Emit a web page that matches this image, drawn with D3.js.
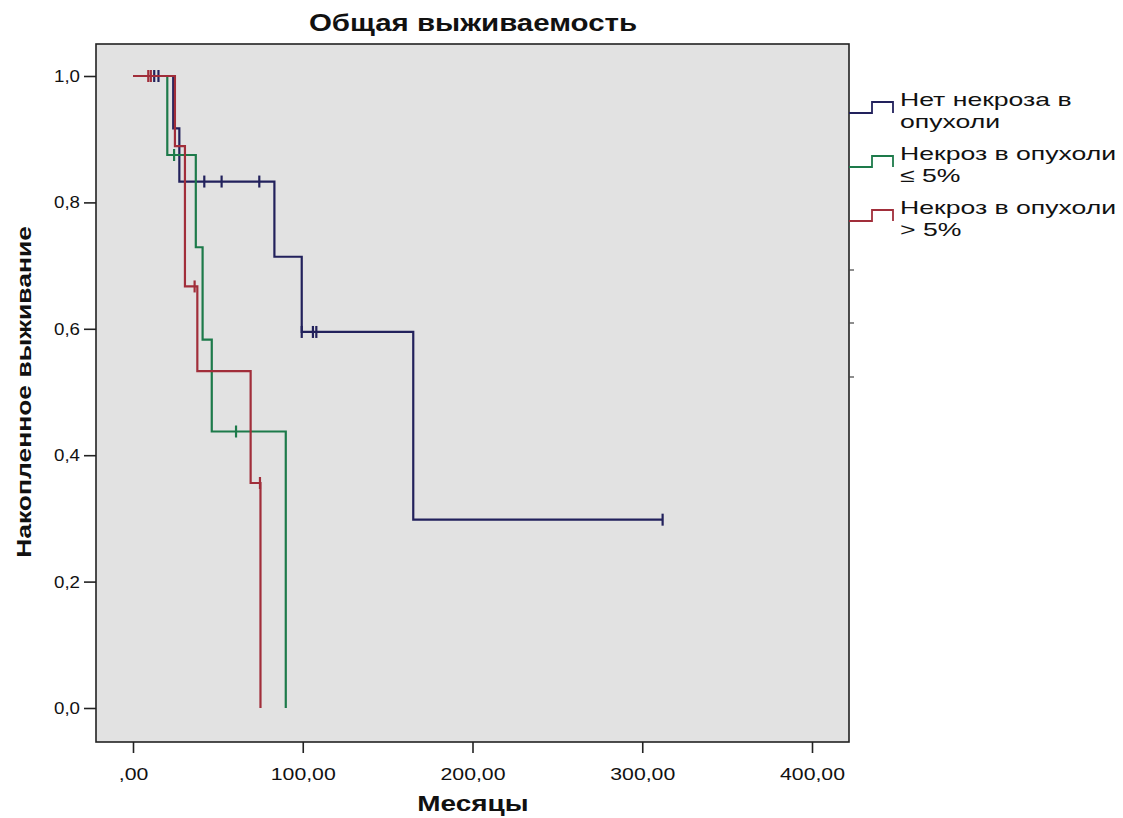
<!DOCTYPE html>
<html><head><meta charset="utf-8">
<script src="https://cdn.jsdelivr.net/npm/d3@7"></script>
<style>html,body{margin:0;padding:0;background:#fff;}svg{display:block;}</style>
</head><body>
<svg id="chart" width="1123" height="818"></svg>
<script>
// ---- data ----
const groupLabels = [["Нет некроза в", "опухоли"], ["Некроз в опухоли", "≤ 5%"], ["Некроз в опухоли", "> 5%"]];
const groupColors = ["#22215c", "#1d7a4a", "#a12e3a"];

const timesNone = [0, 23.7, 27.3, 83.3, 99.4, 165.1, 312];
const survNone  = [1.0, 0.917, 0.833, 0.714, 0.595, 0.298, 0.298];
const censorNone = [12.5, 15, 42, 52.2, 74.4, 99.4, 106, 108, 312];

const timesLow = [0, 20.2, 37, 41, 46.4, 90];
const survLow  = [1.0, 0.875, 0.729, 0.583, 0.4375, 0];
const censorLow = [24.2, 60.7];

const timesHigh = [0, 24.7, 30.6, 37.9, 69.3, 75.1];
const survHigh  = [1.0, 0.889, 0.667, 0.533, 0.356, 0];
const censorHigh = [9, 10.5, 36.3, 74.8];

const xTicks = [0, 100, 200, 300, 400];
const xTickLabels = [",00", "100,00", "200,00", "300,00", "400,00"];
const yTicks = [0, 0.2, 0.4, 0.6, 0.8, 1.0];
const yTickLabels = ["0,0", "0,2", "0,4", "0,6", "0,8", "1,0"];

const titleText = "Общая выживаемость";
const xTitle = "Месяцы";
const yTitle = "Накопленное выживание";

// ---- layout ----
const svg = d3.select("#chart");
const frame = {l: 96, r: 849, t: 44, b: 742};
const x = d3.scaleLinear().domain([0, 400]).range([133, 812]);
const y = d3.scaleLinear().domain([0, 1]).range([708, 76]);
const font = "'Liberation Sans', Arial, sans-serif";

function stretch(sel, factor) {
  sel.each(function() {
    const w = this.getComputedTextLength();
    d3.select(this).attr("textLength", w * factor).attr("lengthAdjust", "spacingAndGlyphs");
  });
}

svg.append("rect").attr("x", frame.l).attr("y", frame.t)
  .attr("width", frame.r - frame.l).attr("height", frame.b - frame.t)
  .attr("fill", "#e2e2e2").attr("stroke", "#222").attr("stroke-width", 1.6);

// axes
const xAxis = svg.append("g").attr("transform", `translate(0,${frame.b})`)
  .call(d3.axisBottom(x).tickValues(xTicks).tickFormat((d, i) => xTickLabels[i]).tickSize(11).tickPadding(15));
const yAxis = svg.append("g").attr("transform", `translate(${frame.l},0)`)
  .call(d3.axisLeft(y).tickValues(yTicks).tickFormat((d, i) => yTickLabels[i]).tickSize(12).tickPadding(4));
[xAxis, yAxis].forEach(a => {
  a.select(".domain").remove();
  a.selectAll(".tick line").attr("stroke", "#222").attr("stroke-width", 1.6);
  a.selectAll(".tick text").attr("font-family", font).attr("font-size", 17).attr("fill", "#111");
});
stretch(xAxis.selectAll(".tick text"), 1.25);
stretch(yAxis.selectAll(".tick text"), 1.1);

// right-side small ticks
const rightTicks = [270, 323, 377];
svg.selectAll(".rtick").data(rightTicks).enter().append("line")
  .attr("x1", frame.r).attr("x2", frame.r + 5).attr("y1", d => d).attr("y2", d => d)
  .attr("stroke", "#444").attr("stroke-width", 1.2);

// curves
const series = [
  {t: timesNone, s: survNone, c: censorNone},
  {t: timesLow, s: survLow, c: censorLow},
  {t: timesHigh, s: survHigh, c: censorHigh}
];
const line = d3.line().x(d => x(d[0])).y(d => y(d[1])).curve(d3.curveStepAfter);
function survAt(ser, t) {
  let i = d3.bisectRight(ser.t, t) - 1;
  return ser.s[Math.max(0, i)];
}
series.forEach((ser, gi) => {
  const pts = ser.t.map((t, i) => [t, ser.s[i]]);
  const g = svg.append("g");
  g.append("path").attr("d", line(pts)).attr("fill", "none")
    .attr("stroke", groupColors[gi]).attr("stroke-width", 2.2);
  g.selectAll("line.cens").data(ser.c).enter().append("line")
    .attr("x1", d => x(d)).attr("x2", d => x(d))
    .attr("y1", d => y(survAt(ser, d)) - 6).attr("y2", d => y(survAt(ser, d)) + 6)
    .attr("stroke", groupColors[gi]).attr("stroke-width", 2.2);
});

// legend
groupLabels.forEach((lab, i) => {
  const yl = 113 + i * 54, yh = yl - 11;
  svg.append("path")
    .attr("d", `M${frame.r},${yl}H872V${yh}H893V${yl}`)
    .attr("fill", "none").attr("stroke", groupColors[i]).attr("stroke-width", 1.8);
  lab.forEach((txt, j) => {
    const t = svg.append("text").attr("x", 900).attr("y", 106 + i * 54 + j * 22)
      .attr("font-family", font).attr("font-size", 19).attr("fill", "#111").text(txt);
    stretch(t, 1.4);
  });
});

// titles
const tt = svg.append("text").attr("x", 473).attr("y", 31).attr("text-anchor", "middle")
  .attr("font-family", font).attr("font-weight", "bold").attr("font-size", 23).attr("fill", "#111").text(titleText);
stretch(tt, 1.28);
const xt = svg.append("text").attr("x", 473).attr("y", 811).attr("text-anchor", "middle")
  .attr("font-family", font).attr("font-weight", "bold").attr("font-size", 22).attr("fill", "#111").text(xTitle);
stretch(xt, 1.27);
const yt = svg.append("text").attr("transform", "translate(31,392) rotate(-90)").attr("text-anchor", "middle")
  .attr("font-family", font).attr("font-weight", "bold").attr("font-size", 21).attr("fill", "#111").text(yTitle);
stretch(yt, 1.26);
</script>
</body></html>
